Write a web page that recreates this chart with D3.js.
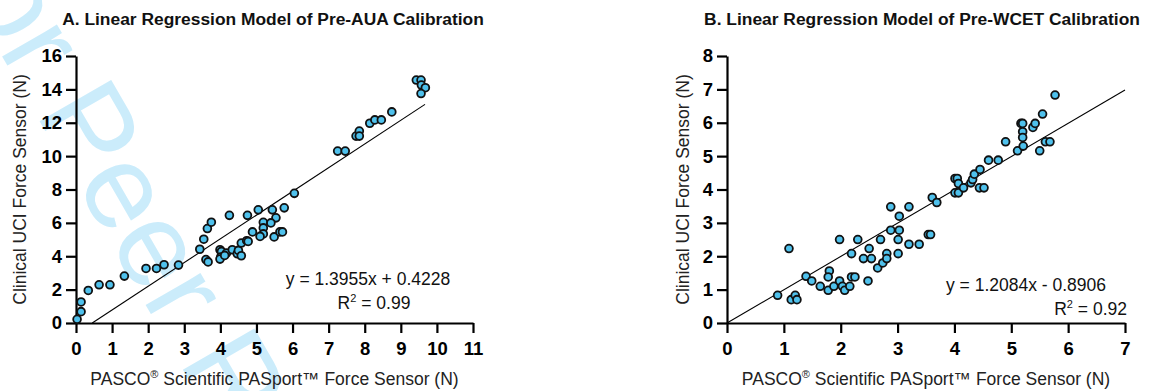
<!DOCTYPE html>
<html>
<head>
<meta charset="utf-8">
<script src="https://cdn.jsdelivr.net/npm/d3@7"></script>
<style>
  body { margin: 0; background: #fff; }
  text { font-family: "Liberation Sans", Arial, Helvetica, sans-serif; }
</style>
</head>
<body>
<svg id="chart" width="1150" height="391"></svg>
<script>
var width = 1150, height = 391

// panel A: pre-AUA calibration (x = PASCO, y = clinical UCI)
var aucPoints = [
  [0.03, 0.22], [0.14, 0.68], [0.14, 1.26], [0.34, 1.95], [0.64, 2.29], [0.94, 2.29],
  [1.34, 2.81], [1.94, 3.27], [2.23, 3.27], [2.44, 3.49], [2.84, 3.47],
  [3.43, 4.42], [3.54, 5.02], [3.64, 5.66], [3.75, 6.04], [3.60, 3.80], [3.66, 3.66],
  [3.99, 4.39], [4.03, 4.29], [4.01, 3.95], [3.99, 3.83], [4.17, 4.19], [4.12, 4.05],
  [4.33, 4.39], [4.47, 4.15], [4.50, 4.35], [4.58, 4.03], [4.58, 4.79], [4.73, 4.93],
  [4.77, 4.89], [4.25, 6.45], [4.75, 6.45], [5.05, 6.78], [5.44, 6.78], [5.77, 6.90],
  [5.54, 6.30], [5.19, 6.03], [5.40, 6.00], [5.19, 5.70], [4.89, 5.46], [5.19, 5.34],
  [5.10, 5.19], [5.49, 5.16], [5.65, 5.46], [5.72, 5.46], [6.05, 7.77],
  [7.25, 10.30], [7.46, 10.30], [7.76, 11.20], [7.85, 11.50], [7.85, 11.20],
  [8.14, 11.97], [8.28, 12.17], [8.46, 12.17], [8.75, 12.65],
  [9.43, 14.56], [9.56, 14.56], [9.57, 14.26], [9.68, 14.10], [9.56, 13.75]
]
var aucLine = [[0.45, 0], [9.67, 13.1]]
var aucXTicks = [0, 1, 2, 3, 4, 5, 6, 7, 8, 9, 10, 11]
var aucYTicks = [0, 2, 4, 6, 8, 10, 12, 14, 16]

// panel B: pre-WCET calibration
var wcetPoints = [
  [0.89, 0.83], [1.09, 2.23], [1.13, 0.70], [1.20, 0.83], [1.23, 0.70], [1.39, 1.40],
  [1.49, 1.26], [1.64, 1.10], [1.80, 1.56], [1.78, 1.38], [1.78, 0.98], [1.88, 1.10],
  [1.98, 1.26], [1.98, 2.50], [2.03, 1.10], [2.07, 0.98], [2.16, 1.10], [2.19, 2.08],
  [2.19, 1.38], [2.25, 1.38], [2.30, 2.50], [2.40, 1.93], [2.48, 1.26], [2.50, 2.23],
  [2.54, 1.93], [2.65, 1.65], [2.70, 2.50], [2.74, 1.80], [2.81, 2.08], [2.81, 1.93],
  [2.88, 3.48], [2.88, 2.78], [3.03, 3.20], [3.03, 2.78], [3.01, 2.50], [3.01, 2.08],
  [3.20, 3.48], [3.20, 2.36], [3.38, 2.36], [3.54, 2.65], [3.58, 2.65], [3.61, 3.76],
  [3.69, 3.61], [4.01, 4.33], [4.05, 4.33], [4.01, 3.90], [4.07, 3.90], [4.07, 4.18],
  [4.16, 4.05], [4.29, 4.20], [4.32, 4.30], [4.35, 4.46], [4.45, 4.60], [4.44, 4.05],
  [4.52, 4.05], [4.60, 4.88], [4.77, 4.88], [4.90, 5.43], [5.11, 5.16], [5.17, 5.98],
  [5.20, 5.98], [5.20, 5.73], [5.20, 5.56], [5.21, 5.30], [5.38, 5.86], [5.42, 5.98],
  [5.50, 5.16], [5.55, 6.26], [5.60, 5.43], [5.68, 5.43], [5.77, 6.83]
]
var wcetLine = [[0, 0], [7, 6.98]]
var wcetXTicks = [0, 1, 2, 3, 4, 5, 6, 7]
var wcetYTicks = [0, 1, 2, 3, 4, 5, 6, 7, 8]

var svg = d3.select('#chart')
svg.append('rect').attr('width', width).attr('height', height).attr('fill', '#fff')

// light blue review watermark behind everything
svg.append('text')
  .attr('transform', 'translate(-72,-72) rotate(60)')
  .attr('font-size', 120)
  .attr('fill', '#cbecfb')
  .text('For Peer Review')

function drawPanel(opts) {
  var x = d3.scaleLinear().domain(opts.xDomain).range(opts.xRange)
  var y = d3.scaleLinear().domain(opts.yDomain).range([323, 56])
  var g = svg.append('g')

  var xAxis = g.append('g')
    .attr('transform', 'translate(0,' + y(0) + ')')
    .call(d3.axisBottom(x).tickValues(opts.xTicks).tickFormat(d3.format('d'))
      .tickSize(10).tickSizeOuter(0).tickPadding(9))
  var yAxis = g.append('g')
    .attr('transform', 'translate(' + x(0) + ',0)')
    .call(d3.axisLeft(y).tickValues(opts.yTicks).tickFormat(d3.format('d'))
      .tickSize(10).tickSizeOuter(0).tickPadding(4))

  ;[xAxis, yAxis].forEach(function(a) {
    a.select('.domain').attr('stroke', '#000').attr('stroke-width', 2.2)
    a.selectAll('.tick line').attr('stroke', '#000').attr('stroke-width', 2.2)
    a.selectAll('.tick text')
      .attr('fill', '#000')
      .attr('font-size', 18.5)
      .attr('font-weight', 'bold')
      .attr('font-family', '"Liberation Sans", Arial, sans-serif')
  })

  // regression line
  g.append('line')
    .attr('x1', x(opts.line[0][0])).attr('y1', y(opts.line[0][1]))
    .attr('x2', x(opts.line[1][0])).attr('y2', y(opts.line[1][1]))
    .attr('stroke', '#000')
    .attr('stroke-width', 1.1)

  g.selectAll('.dot')
    .data(opts.points)
    .enter().append('circle')
    .attr('class', 'dot')
    .attr('cx', function(d) { return x(d[0]) })
    .attr('cy', function(d) { return y(d[1]) })
    .attr('r', 3.9)
    .attr('fill', '#4fc1ec')
    .attr('stroke', '#111')
    .attr('stroke-width', 1.8)

  // title
  g.append('text')
    .attr('x', opts.titleX).attr('y', 25)
    .attr('text-anchor', 'middle')
    .attr('font-size', 17.4)
    .attr('font-weight', 'bold')
    .attr('fill', '#111')
    .text(opts.title)

  // x axis label with superscript ® and ™
  var xl = g.append('text')
    .attr('x', (opts.xRange[0] + opts.xRange[1]) / 2).attr('y', 385)
    .attr('text-anchor', 'middle')
    .attr('font-size', 17.5)
    .attr('fill', '#222')
  xl.append('tspan').text('PASCO')
  xl.append('tspan').attr('font-size', 11).attr('dy', -7).text('®')
  xl.append('tspan').attr('dy', 7).text(' Scientific PASport™ Force Sensor (N)')

  // y axis label
  g.append('text')
    .attr('transform', 'translate(' + opts.yLabelX + ',' + ((323 + 56) / 2) + ') rotate(-90)')
    .attr('text-anchor', 'middle')
    .attr('font-size', 17.5)
    .attr('fill', '#222')
    .text('Clinical UCI Force Sensor (N)')

  // regression equation and R²
  g.append('text')
    .attr('x', opts.eqX).attr('y', opts.eqY)
    .attr('text-anchor', opts.eqAnchor)
    .attr('font-size', 17.5)
    .attr('fill', '#111')
    .text(opts.equation)

  var r2 = g.append('text')
    .attr('x', opts.r2X).attr('y', opts.eqY + 24)
    .attr('text-anchor', opts.r2Anchor)
    .attr('font-size', 17.5)
    .attr('fill', '#111')
  r2.append('tspan').text('R')
  r2.append('tspan').attr('font-size', 11).attr('dy', -7).text('2')
  r2.append('tspan').attr('dy', 7).text(' = ' + opts.r2)
}

drawPanel({
  points: aucPoints, line: aucLine,
  xDomain: [0, 11], yDomain: [0, 16], xRange: [76, 473],
  xTicks: aucXTicks, yTicks: aucYTicks,
  title: 'A. Linear Regression Model of Pre-AUA Calibration', titleX: 273,
  yLabelX: 26,
  equation: 'y = 1.3955x + 0.4228', eqX: 368, eqY: 285, eqAnchor: 'middle',
  r2: '0.99', r2X: 374, r2Anchor: 'middle'
})

drawPanel({
  points: wcetPoints, line: wcetLine,
  xDomain: [0, 7], yDomain: [0, 8], xRange: [727, 1125],
  xTicks: wcetXTicks, yTicks: wcetYTicks,
  title: 'B. Linear Regression Model of Pre-WCET Calibration', titleX: 922,
  yLabelX: 689,
  equation: 'y = 1.2084x - 0.8906', eqX: 1106, eqY: 291, eqAnchor: 'end',
  r2: '0.92', r2X: 1127, r2Anchor: 'end'
})
</script>
</body>
</html>
